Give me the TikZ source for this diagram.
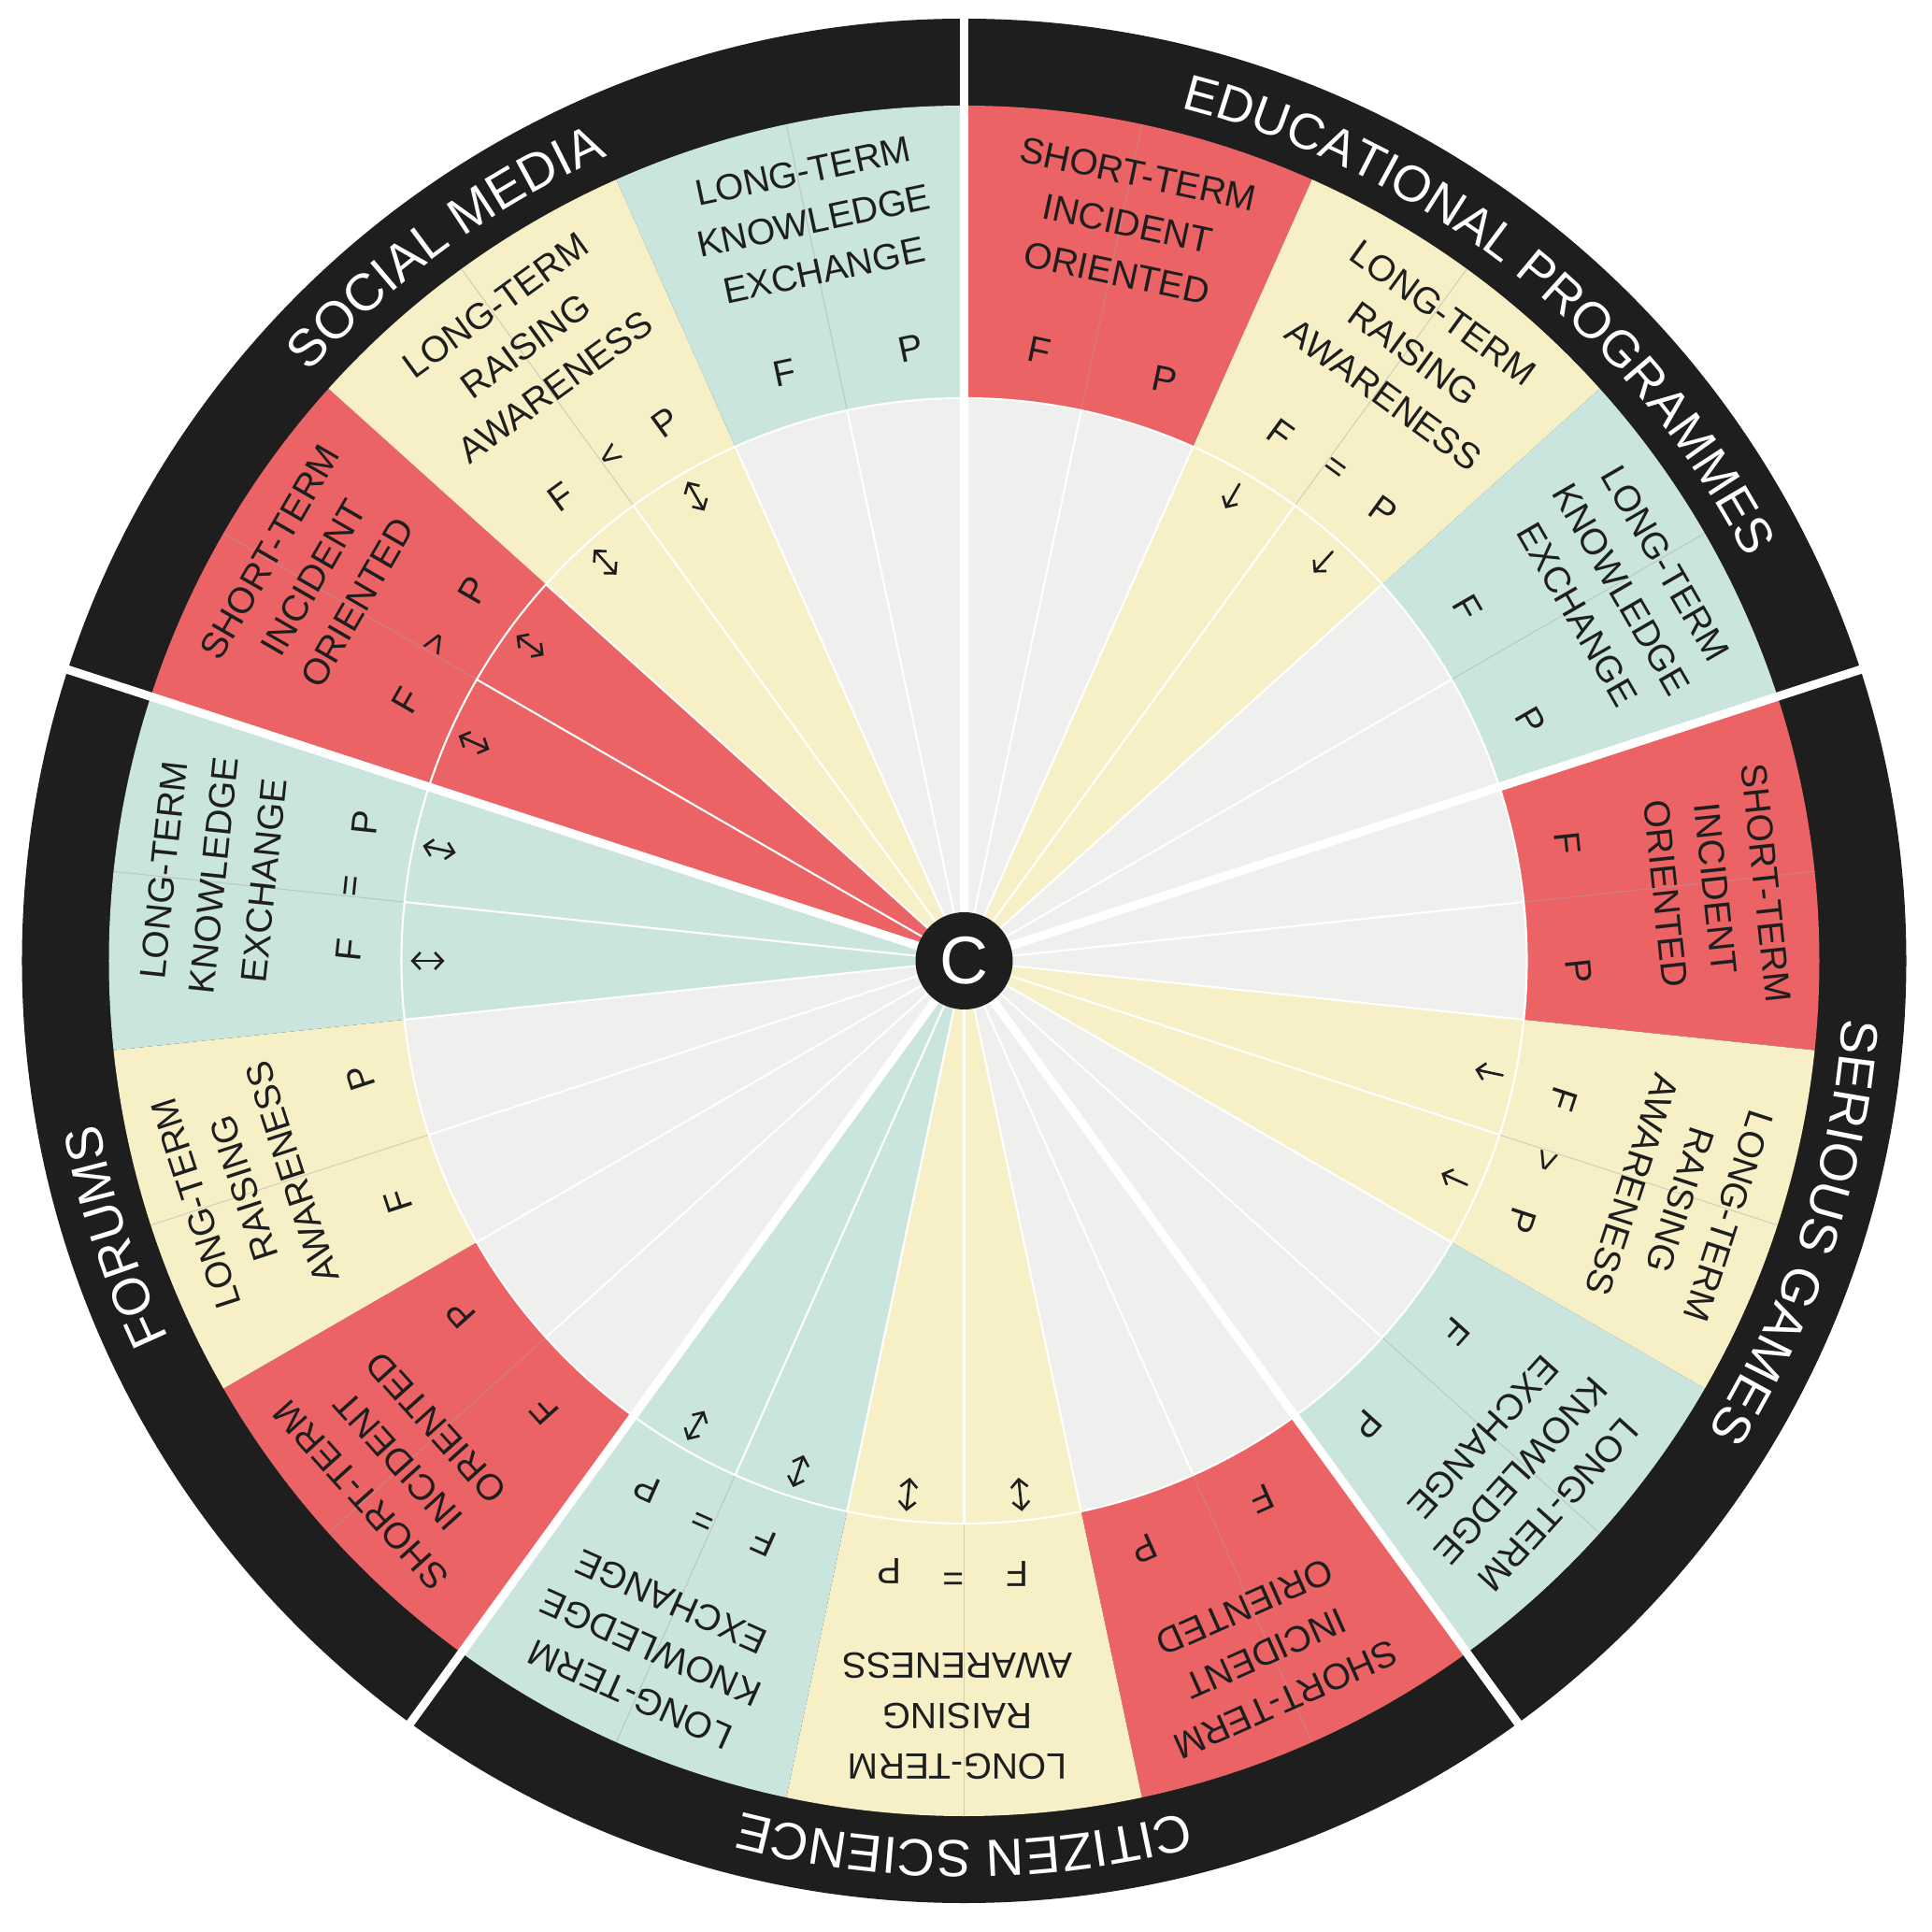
\documentclass[tikz,border=0pt]{standalone}
\usepackage{fontspec}
\setmainfont{Liberation Sans}
\usetikzlibrary{decorations.text,arrows.meta}
\definecolor{cred}{RGB}{235,99,101}
\definecolor{cyel}{RGB}{247,240,199}
\definecolor{cteal}{RGB}{202,229,222}
\definecolor{cgrey}{RGB}{239,239,237}
\definecolor{cblack}{RGB}{30,30,30}
\newcommand\ringfont{\fontsize{15.9}{16}\selectfont}
\newcommand\ringfontb{\fontsize{15.4}{16}\selectfont}
\tikzset{
  bandtxt/.style={font=\fontsize{11.1}{15.4}\selectfont, text=cblack, align=center, inner sep=0pt},
  fp/.style={font=\fontsize{11.1}{13}\selectfont, text=cblack, inner sep=0pt},
  catsep/.style={draw=white, line width=2.6pt},
  thinsep/.style={draw=white, line width=0.6pt},
  faint/.style={draw=black!35, line width=0.3pt, opacity=0.45},
  ringlab/.style={decorate, decoration={text along path, text align=center, text color=white}},
  relarrow/.style={draw=cblack, line width=0.75pt, line cap=round},
  barb/.tip={Straight Barb[length=0.085cm, width=0.18cm, line width=0.75pt]},
}
\begin{document}
\begin{tikzpicture}
\useasboundingbox (-10.315,-10.39) rectangle (10.355,10.28);
\fill[white] (-10.315,-10.39) rectangle (10.355,10.28);
% outer black ring
\fill[cblack] (0,0) circle[radius=10.08];
% subsectors
\foreach \st/\col/\txt/\sym/\arr in {
  90/cred/{SHORT-TERM\\INCIDENT\\ORIENTED}/{}/0,
  66/cyel/{LONG-TERM\\RAISING\\AWARENESS}/{=}/1,
  42/cteal/{LONG-TERM\\KNOWLEDGE\\EXCHANGE}/{}/0,
  18/cred/{SHORT-TERM\\INCIDENT\\ORIENTED}/{}/0,
  -6/cyel/{LONG-TERM\\RAISING\\AWARENESS}/{>}/1,
  -30/cteal/{LONG-TERM\\KNOWLEDGE\\EXCHANGE}/{}/0,
  -54/cred/{SHORT-TERM\\INCIDENT\\ORIENTED}/{}/0,
  -78/cyel/{LONG-TERM\\RAISING\\AWARENESS}/{=}/2,
  -102/cteal/{LONG-TERM\\KNOWLEDGE\\EXCHANGE}/{=}/2,
  -126/cred/{SHORT-TERM\\INCIDENT\\ORIENTED}/{}/0,
  -150/cyel/{LONG-TERM\\RAISING\\AWARENESS}/{}/0,
  -174/cteal/{LONG-TERM\\KNOWLEDGE\\EXCHANGE}/{=}/2,
  162/cred/{SHORT-TERM\\INCIDENT\\ORIENTED}/{>}/2,
  138/cyel/{LONG-TERM\\RAISING\\AWARENESS}/{<}/2,
  114/cteal/{LONG-TERM\\KNOWLEDGE\\EXCHANGE}/{}/0}{
  \pgfmathsetmacro\md{\st-12}
  \pgfmathsetmacro\fa{\st-6}
  \pgfmathsetmacro\pa{\st-18}
  \pgfmathsetmacro\rot{\st-102}
  \fill[\col] (0,0) -- (\st:9.15) arc[start angle=\st, delta angle=-24, radius=9.15] -- cycle;
  \ifnum\arr=0
    \fill[cgrey] (0,0) -- (\st:6.02) arc[start angle=\st, delta angle=-24, radius=6.02] -- cycle;
  \fi
  \draw[faint] (\md:6.02) -- (\md:9.15);
  \node[bandtxt, rotate=\rot] (lab\st) at (\md-0.5:8.08) {\txt};
  \node[fp, rotate=\rot] (f\st) at (\fa-1:6.58) {F};
  \node[fp, rotate=\rot] (p\st) at (\pa-1:6.58) {P};
  \ifx\sym\empty\else
    \node[fp, rotate=\rot] (s\st) at (\md-1:6.58) {\sym};
  \fi
  \ifnum\arr=1
    \draw[relarrow, -barb] (\fa:5.89) -- (\fa:5.59);
    \draw[relarrow, -barb] (\pa:5.89) -- (\pa:5.59);
  \fi
  \ifnum\arr=2
    \draw[relarrow, barb-barb] (\fa:5.92) -- (\fa:5.56);
    \draw[relarrow, barb-barb] (\pa:5.92) -- (\pa:5.56);
  \fi
}
% thin white lines in the inner disc
\foreach \k in {0,...,29}{
  \draw[thinsep] (0,0) -- (90-12*\k:6.02);
}
\draw[thinsep] (0,0) circle[radius=6.02];
% category separators
\foreach \s in {90,18,-54,-126,162}{
  \draw[catsep] (0,0) -- (\s:10.2);
}
% category labels
\path[ringlab, decoration={text={|\ringfontb|EDUCATIONAL PROGRAMMES}}] (87.5:9.415) arc[start angle=87.5, delta angle=-72, radius=9.415];
\path[ringlab, decoration={text={|\ringfont|SERIOUS GAMES}}] (18:9.415) arc[start angle=18, delta angle=-72, radius=9.415];
\path[ringlab, decoration={text={|\ringfont|CITIZEN SCIENCE}}] (-54:9.415) arc[start angle=-54, delta angle=-72, radius=9.415];
\path[ringlab, decoration={text={|\ringfont|FORUMS}}] (-126:9.415) arc[start angle=-126, delta angle=-72, radius=9.415];
\path[ringlab, decoration={text={|\ringfont|SOCIAL MEDIA}}] (162:9.415) arc[start angle=162, delta angle=-72, radius=9.415];
% centre
\node[circle, fill=cblack, minimum size=1.04cm, inner sep=0pt, text=white, font=\fontsize{20.5}{20}\selectfont] (ctr) at (0,0) {C};
\end{tikzpicture}
\end{document}
